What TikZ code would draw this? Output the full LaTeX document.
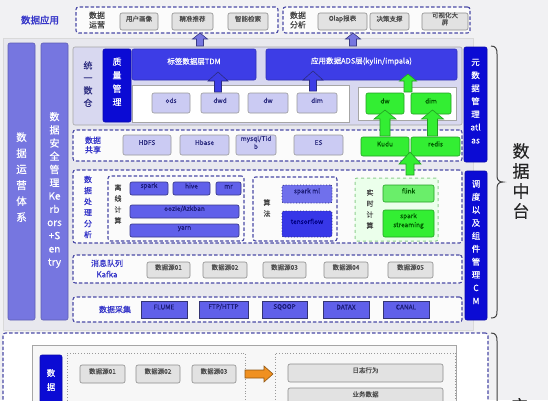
\documentclass[tikz,border=0pt]{standalone}
\usepackage{fontspec}
\setmainfont[FakeBold=0.4]{Noto Sans CJK SC}
\newfontfamily\cjkb[FakeBold=1.6]{Noto Sans CJK SC}
\usetikzlibrary{calc,fit}
\definecolor{bg}{HTML}{F1F1F3}
\definecolor{panel}{HTML}{E8E8EE}
\definecolor{dashc}{HTML}{4A4AA6}
\definecolor{midblue}{HTML}{7676E0}
\definecolor{darkblue}{HTML}{0B0BD4}
\definecolor{layerblue}{HTML}{3D3DE6}
\definecolor{lav}{HTML}{D8D8F0}
\definecolor{lightbox}{HTML}{CBCBF3}
\definecolor{procblue}{HTML}{6060EA}
\definecolor{greenA}{HTML}{33EE33}
\definecolor{greenB}{HTML}{6AEE6A}
\definecolor{greenD}{HTML}{22A022}
\definecolor{textblue}{HTML}{3434C8}
\definecolor{navy}{HTML}{2C2C80}
\definecolor{deepnavy}{HTML}{1C1C78}
\definecolor{greyfill}{HTML}{E2E2E2}
\definecolor{orangeA}{HTML}{F09020}
\newcommand\myfs[2]{\fontsize{#1}{#2}\selectfont}
% vertical block arrow: style, base, tip, shaft width, head width, head length
\newcommand\blkup[6]{\path[#1] let \p1=(#2), \p2=(#3) in
  ({\x1-#4/2},\y1) -- ({\x1-#4/2},{\y2-#6}) -- ({\x1-#5/2},{\y2-#6}) -- (\x1,\y2)
  -- ({\x1+#5/2},{\y2-#6}) -- ({\x1+#4/2},{\y2-#6}) -- ({\x1+#4/2},\y1) -- cycle;}
\newcommand\blkright[6]{\path[#1] let \p1=(#2), \p2=(#3) in
  (\x1,{\y1+#4/2}) -- ({\x2-#6},{\y1+#4/2}) -- ({\x2-#6},{\y1+#5/2}) -- (\x2,\y1)
  -- ({\x2-#6},{\y1-#5/2}) -- ({\x2-#6},{\y1-#4/2}) -- (\x1,{\y1-#4/2}) -- cycle;}
\begin{document}
\begin{tikzpicture}[x=1pt,y=-1pt,
  every node/.style={inner sep=0pt, outer sep=0pt, align=center},
  dashbox/.style={draw=dashc, line width=1.1pt, dash pattern=on 3.5pt off 2pt, rounded corners=2.5pt, fill=white!70!bg},
  greybox/.style={draw=black!45, fill=greyfill, rounded corners=2pt, line width=0.6pt, font=\myfs{6.5}{7.5}, text=black!70},
  lbox/.style={draw=black!40, fill=lightbox, rounded corners=2pt, line width=0.6pt, font=\myfs{6.5}{7.5}, text=navy},
  gbox/.style={draw=greenD, fill=greenA, rounded corners=2pt, line width=0.6pt, font=\myfs{6.5}{7.5}, text=green!35!black},
  colbox/.style={draw=midblue!80!black, fill=midblue, rounded corners=2pt, line width=0.6pt, text=white},
  darkcol/.style={draw=darkblue!80!black, fill=darkblue, rounded corners=2pt, line width=0.6pt, text=white},
  layer/.style={draw=layerblue!80!black, fill=layerblue, rounded corners=2pt, line width=0.6pt, text=white, font=\myfs{7.5}{9}},
  whitearea/.style={draw=black!35, fill=white, line width=0.6pt},
  proc/.style={draw=procblue!60!black, fill=procblue, rounded corners=2pt, line width=0.7pt, font=\myfs{6.5}{7.5}, text=deepnavy},
  coll/.style={draw=dashc!70!black, fill=procblue, line width=0.8pt, font=\myfs{6.5}{7.5}, text=deepnavy},
  lbl/.style={font=\myfs{8}{9.5}, text=textblue},
  glbl/.style={font=\myfs{7}{11}, text=black!75},
  toparr/.style={fill=midblue, draw=dashc!80!black, line width=0.6pt},
  bluearr/.style={fill=layerblue, draw=navy, line width=0.6pt},
  greenarr/.style={fill=greenA, draw=greenD, line width=0.6pt},
  orangearr/.style={fill=orangeA, draw=orangeA!60!black, line width=0.6pt},
  bracec/.style={draw=black!75, line width=1pt}
]
\path[use as bounding box, clip] (0,0) rectangle (548,400);
\fill[bg] (0,0) rectangle (548,400);

% main panel
\node[draw=black!15, fill=panel, fit={(3,38) (473,330)}] (panel) {};

% ---- top: data application
\node[font=\cjkb\myfs{9.5}{11}, text=textblue] (app) at (40,20) {数据应用};
\node[dashbox, fit={(76,7) (278,33)}] (appbox1) {};
\node[glbl, font=\myfs{8}{9.5}] (yy) at (97,20) {数据\\运营};
\node[greybox, fit={(120,13) (158,30)}] (yhhx) {用户画像};
\node[greybox, fit={(172,13) (213,30)}] (jztj) {精准推荐};
\node[greybox, fit={(228,13) (268,30)}] (znjs) {智能检索};
\node[dashbox, fit={(283,7) (470,33)}] (appbox2) {};
\node[glbl, font=\myfs{8}{9.5}] (fx) at (298,20) {数据\\分析};
\node[greybox, fit={(318,13) (367,30)}] (olap) {Olap报表};
\node[greybox, fit={(370,13) (409,30)}] (jczc) {决策支撑};
\node[greybox, fit={(422,13) (468,30)}, font=\myfs{6.5}{7}] (ksh) {可视化大\\屏};

% ---- left columns
\node[colbox, fit={(8,43) (35,320)}, font=\myfs{10.5}{16}] (yunying) {数\\据\\运\\营\\体\\系};
\node[colbox, fit={(41,43) (68,320)}] (anquan) {};
\node[font=\myfs{10}{13.2}, text=white] (anquantxt) at (54.5,190) {数\\据\\安\\全\\管\\理\\Ke\\rb\\ors\\+S\\en\\try};

% ---- unified warehouse
\node[draw=black!35, fill=lav, rounded corners=2pt, line width=0.6pt, fit={(73,47) (462,125)}] (dwbox) {};
\node[font=\myfs{9}{12.5}, text=navy] (tysc) at (88,84) {统\\一\\数\\仓};
\node[darkcol, fit={(103,49) (131,122)}, font=\myfs{9}{13.5}] (zlgl) {质\\量\\管\\理};
\node[layer, fit={(132,49) (256,80)}] (tdm) {标签数据层TDM};
\node[layer, fit={(266,49) (457,80)}] (ads) {应用数据ADS层(kylin/impala)};
\node[whitearea, fit={(132,85) (349,122)}] (wa1) {};
\node[whitearea, fit={(358,87) (456,120)}] (wa2) {};
\node[lbox, fit={(152,93) (190,113)}] (ods) {ods};
\node[lbox, fit={(201,93) (239,113)}] (dwd) {dwd};
\node[lbox, fit={(248,93) (288,113)}] (dw) {dw};
\node[lbox, fit={(297,93) (337,113)}] (dim) {dim};
\node[gbox, fit={(366,93) (404,114)}] (gdw) {dw};
\node[gbox, fit={(411,93) (451,114)}] (gdim) {dim};

% ---- metadata column
\node[darkcol, fit={(464,47) (487,162)}, font=\myfs{8.5}{13}] (meta) {元\\数\\据\\管\\理\\atl\\as};

% ---- data sharing
\node[dashbox, fit={(73,130) (462,161)}] (share) {};
\node[lbl] (sharetxt) at (93,145) {数据\\共享};
\node[lbox, fit={(123,135) (171,155)}] (hdfs) {HDFS};
\node[lbox, fit={(180,135) (229,155)}] (hbase) {Hbase};
\node[lbox, fit={(236,135) (276,155)}, font=\myfs{6.5}{8}] (mysql) {mysql/Tid\\b};
\node[lbox, fit={(294,135) (343,155)}] (es) {ES};
\node[gbox, fit={(361,137) (409,156)}] (kudu) {Kudu};
\node[gbox, fit={(411,137) (460,156)}] (redis) {redis};

% ---- processing
\node[dashbox, fit={(73,170) (462,243)}] (proc) {};
\node[font=\myfs{8}{11}, text=textblue] (proctxt) at (88,207) {数\\据\\处\\理\\分\\析};
\node[dashbox, fit={(108,176) (244,241)}] (offline) {};
\node[glbl] (offtxt) at (118,204) {离\\线\\计\\算};
\node[proc, fit={(130,182) (168,195)}] (spark) {spark};
\node[proc, fit={(173,182) (210,195)}] (hive) {hive};
\node[proc, fit={(216,182) (241,195)}] (mr) {mr};
\node[proc, fit={(130,205) (239,218)}] (oozie) {oozie/Azkban};
\node[proc, fit={(130,224) (239,237)}] (yarn) {yarn};
\node[dashbox, fit={(253,177) (337,241)}] (algo) {};
\node[glbl] (algotxt) at (267,208) {算\\法};
\node[draw=navy, dotted, line width=0.9pt, fill=procblue!90!white, rounded corners=2pt, font=\myfs{6.5}{7.5}, text=deepnavy, fit={(282,185) (332,203)}] (sparkml) {spark ml};
\node[draw=navy, dotted, line width=0.9pt, fill=layerblue!90!blue, rounded corners=2pt, font=\myfs{6.5}{7.5}, text=blue!50!black, fit={(282,211) (332,237)}] (tf) {tensorflow};
\node[draw=greenD!50!white, dashed, line width=1pt, rounded corners=2pt, fill=white!92!green, fit={(355,178) (438,241)}] (rt) {};
\node[glbl] (rttxt) at (370,209) {实\\时\\计\\算};
\node[gbox, fill=greenB, fit={(383,185) (434,202)}] (flink) {flink};
\node[gbox, fit={(383,210) (434,237)}, font=\myfs{6.5}{9}] (sstream) {spark\\streaming};

% ---- scheduling column
\node[darkcol, fit={(465,171) (487,320)}, font=\myfs{8.5}{13}] (cm) {调\\度\\以\\及\\组\\件\\管\\理\\C\\M};

% ---- kafka
\node[dashbox, fit={(73,255) (462,283)}] (kafka) {};
\node[font=\myfs{8}{11}, text=textblue] (kafkatxt) at (107,268.5) {消息队列\\Kafka};
\node[greybox, fit={(147,262) (190,278)}] (k1) {数据源01};
\node[greybox, fit={(203,262) (247,278)}] (k2) {数据源02};
\node[greybox, fit={(263,262) (306,278)}] (k3) {数据源03};
\node[greybox, fit={(324,262) (368,278)}] (k4) {数据源04};
\node[greybox, fit={(388,262) (433,278)}] (k5) {数据源05};

% ---- collection
\node[dashbox, fit={(73,297) (462,322)}] (collect) {};
\node[font=\myfs{8}{9.5}, text=textblue] (colltxt) at (115,309.5) {数据采集};
\node[coll, fit={(141,301) (187,318)}] (flume) {FLUME};
\node[coll, fit={(199,301) (248,318)}] (ftp) {FTP/HTTP};
\node[coll, fit={(262,301) (307,318)}] (sqoop) {SQOOP};
\node[coll, fit={(323,301) (369,318)}] (datax) {DATAX};
\node[coll, fit={(383,301) (429,318)}] (canal) {CANAL};

% ---- block arrows
\coordinate (ta1b) at (200,46); \coordinate (ta1t) at (200,33);
\coordinate (ta2b) at (353,46); \coordinate (ta2t) at (353,33);
\blkup{toparr}{ta1b}{ta1t}{7pt}{15pt}{6pt}
\blkup{toparr}{ta2b}{ta2t}{7pt}{15pt}{6pt}
\blkup{bluearr}{$(dwd.north)+(-2,-1)$}{$(tdm.south)+(0,-8)$}{7pt}{20pt}{9pt}
\blkup{bluearr}{$(dim.north)+(-4,-2)$}{$(ads.south)+(0,-9)$}{7pt}{20pt}{9pt}
\blkup{greenarr}{$($(gdw.north)!0.5!(gdim.north)$)+(0,-1)$}{$(ads.south)+(0,-6)$}{8pt}{17pt}{7pt}
\blkup{greenarr}{$(kudu.north)+(0,-1)$}{$(gdw.south)+(0,-4)$}{10pt}{22pt}{9pt}
\blkup{greenarr}{$(redis.north)+(-3,-1)$}{$(gdim.south)+(0,-4)$}{10pt}{22pt}{9pt}
\blkup{greenarr}{$(flink.north)+(1.5,-10)$}{$(kudu.south east)+(0,-4)$}{8pt}{22pt}{12pt}

% ---- brace and side title
\draw[bracec] (491,46) .. controls (496,46) and (497,49) .. (497,54) -- (497,176)
  .. controls (497,180) and (499,182) .. (503,182)
  .. controls (499,182) and (497,184) .. (497,188) -- (497,311)
  .. controls (497,316) and (496,318) .. (491,318);
\node[font=\myfs{17}{20}, text=black!85] (zt) at (521,181) {数\\据\\中\\台};

% ---- bottom section
\node[dashbox, fill=white, fit={(3,333) (488,415)}] (bot) {};
\node[draw=black!35, fill=white!97!black, line width=0.6pt, fit={(32,345) (456,415)}] (botin) {};
\node[darkcol, fit={(40,355) (62,415)}] (botcol) {};
\node[font=\myfs{8.5}{14}, text=white] (botcoltxt) at (51,380) {数\\据};
\node[draw=black!40, dotted, line width=0.8pt, fit={(67,353) (245,415)}] (srcbox) {};
\node[greybox, fit={(80,365) (125,383)}] (b1) {数据源01};
\node[greybox, fit={(136,365) (180,383)}] (b2) {数据源02};
\node[greybox, fit={(192,365) (236,383)}] (b3) {数据源03};
\node[draw=black!40, dotted, line width=0.8pt, fit={(275,353) (455,415)}] (tgtbox) {};
\node[greybox, fit={(288,364) (443,382)}] (log) {日志行为};
\node[greybox, fit={(288,388) (443,406)}] (biz) {业务数据};
\blkright{orangearr}{$(b3.east)+(9,0)$}{$(tgtbox.west)+(-2,0)$}{8pt}{16pt}{9pt}
\draw[bracec] (491,333) .. controls (496,333) and (497,336) .. (497,341) -- (497,405);
\node[font=\myfs{17}{20}, text=black!85] (zt2) at (519,406) {应};
\end{tikzpicture}
\end{document}
